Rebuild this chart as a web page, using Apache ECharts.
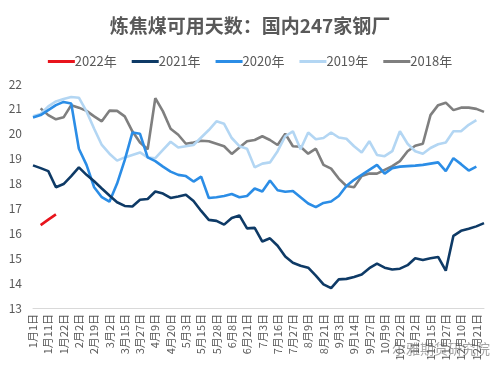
<!DOCTYPE html>
<html><head><meta charset="utf-8">
<script src="https://cdn.jsdelivr.net/npm/echarts@6/dist/echarts.min.js"></script>
<style>html,body{margin:0;padding:0;background:#fff}#c{width:500px;height:374px}</style>
</head><body><div id="c"></div>
<script>
const categories = ['1月1日','1月6日','1月11日','1月16日','1月22日','1月27日','2月2日','2月10日','2月19日','2月24日',
'3月2日','3月8日','3月15日','3月21日','3月27日','4月2日','4月9日','4月14日','4月20日','4月26日',
'5月3日','5月9日','5月15日','5月21日','5月28日','6月2日','6月8日','6月15日','6月21日','6月27日',
'7月3日','7月9日','7月16日','7月21日','7月27日','8月2日','8月9日','8月15日','8月21日','8月27日',
'9月3日','9月8日','9月14日','9月20日','9月27日','10月2日','10月9日','10月15日','10月22日','10月27日',
'11月2日','11月8日','11月15日','11月21日','11月27日','12月3日','12月10日','12月15日','12月21日','12月27日'];
const yTicks = [13,14,15,16,17,18,19,20,21,22];
const s2022 = [null,16.33,16.55,16.76];
const s2021 = [18.73,18.62,18.5,17.85,17.98,18.3,18.65,18.35,18.09,17.8,
17.52,17.25,17.1,17.08,17.35,17.38,17.68,17.6,17.42,17.48,
17.55,17.3,16.9,16.54,16.5,16.35,16.62,16.72,16.2,16.22,
15.67,15.8,15.5,15.07,14.82,14.7,14.62,14.3,13.95,13.8,
14.15,14.17,14.25,14.35,14.6,14.78,14.62,14.55,14.58,14.72,
15.0,14.93,15.0,15.05,14.5,15.9,16.1,16.18,16.28,16.41];
const s2020 = [20.65,20.75,20.95,21.15,21.28,21.22,19.4,18.75,17.85,17.45,
17.27,18.0,18.94,20.05,20.0,19.05,18.9,18.68,18.48,18.35,
18.3,18.08,18.28,17.42,17.45,17.5,17.58,17.45,17.5,17.8,
17.68,18.12,17.73,17.67,17.7,17.45,17.2,17.05,17.22,17.28,
17.5,17.9,18.15,18.35,18.55,18.75,18.4,18.62,18.68,18.7,
18.72,18.75,18.8,18.85,18.5,19.02,18.78,18.52,18.68,null];
const s2019 = [20.7,20.8,21.1,21.3,21.4,21.48,21.45,20.9,20.2,19.55,
19.2,18.92,19.05,19.15,19.25,19.05,19.02,19.35,19.68,19.45,
19.5,19.55,19.85,20.15,20.5,20.4,19.83,19.5,19.4,18.65,
18.8,18.85,19.3,19.9,20.1,19.38,20.05,19.78,19.83,20.05,
19.85,19.8,19.5,19.25,19.7,19.15,19.1,19.3,20.1,19.6,
19.3,19.2,19.43,19.58,19.65,20.1,20.1,20.36,20.55,null];
const s2018 = [null,21.02,20.75,20.58,20.66,21.15,21.05,20.92,20.7,20.5,
20.93,20.92,20.7,20.1,19.65,19.38,21.43,20.9,20.2,19.96,
19.6,19.65,19.72,19.7,19.6,19.5,19.19,19.45,19.7,19.75,
19.9,19.75,19.55,20.0,19.5,19.48,19.2,19.4,18.75,18.6,
18.2,17.9,17.85,18.3,18.4,18.4,18.55,18.7,18.9,19.3,
19.52,19.6,20.75,21.15,21.25,20.95,21.05,21.05,21.0,20.88];
const seriesNames = ['2022年','2021年','2020年','2019年','2018年'];
const colors = ['#e8141c','#0e3a66','#2b8de6','#b3d6f3','#7f7f7f'];
const seriesData = [s2022,s2021,s2020,s2019,s2018];

const chart = echarts.init(document.getElementById('c'));
chart.setOption({
  animation:false,
  title:{text:'炼焦煤可用天数：国内247家钢厂',left:'center',top:11,
    textStyle:{fontSize:19,fontWeight:'bold',color:'#595959',fontFamily:'Noto Sans CJK SC'}},
  legend:{top:50,left:'center',itemWidth:27,itemHeight:3,itemGap:15,icon:'rect',
    textStyle:{fontSize:13,color:'#595959',fontFamily:'Noto Sans CJK SC',padding:[0,0,0,-5]},
    data:seriesNames},
  grid:{left:33,right:16,top:84,bottom:66},
  xAxis:{type:'category',data:categories,boundaryGap:false,
    axisLine:{lineStyle:{color:'#d9d9d9',width:1}},axisTick:{show:false},
    axisLabel:{interval:1,rotate:90,fontSize:11,color:'#595959',margin:6,fontFamily:'Noto Sans CJK SC'}},
  yAxis:{type:'value',min:yTicks[0],max:yTicks[yTicks.length-1],interval:1,
    axisLine:{show:false},axisTick:{show:false},splitLine:{show:false},
    axisLabel:{fontSize:12,color:'#595959',margin:11,fontFamily:'Noto Sans CJK SC'}},
  series:seriesNames.map((n,i)=>({name:n,type:'line',data:seriesData[i],showSymbol:false,symbol:'none',
    lineStyle:{width:2.6,color:colors[i]},itemStyle:{color:colors[i]},connectNulls:false,z:10-i})),
  graphic:[{type:'text',left:392,top:342,style:{text:'尔雅期货研究院',fontSize:14,fill:'rgba(90,90,90,0.55)',fontFamily:'Noto Sans CJK SC'}}]
});
</script></body></html>
